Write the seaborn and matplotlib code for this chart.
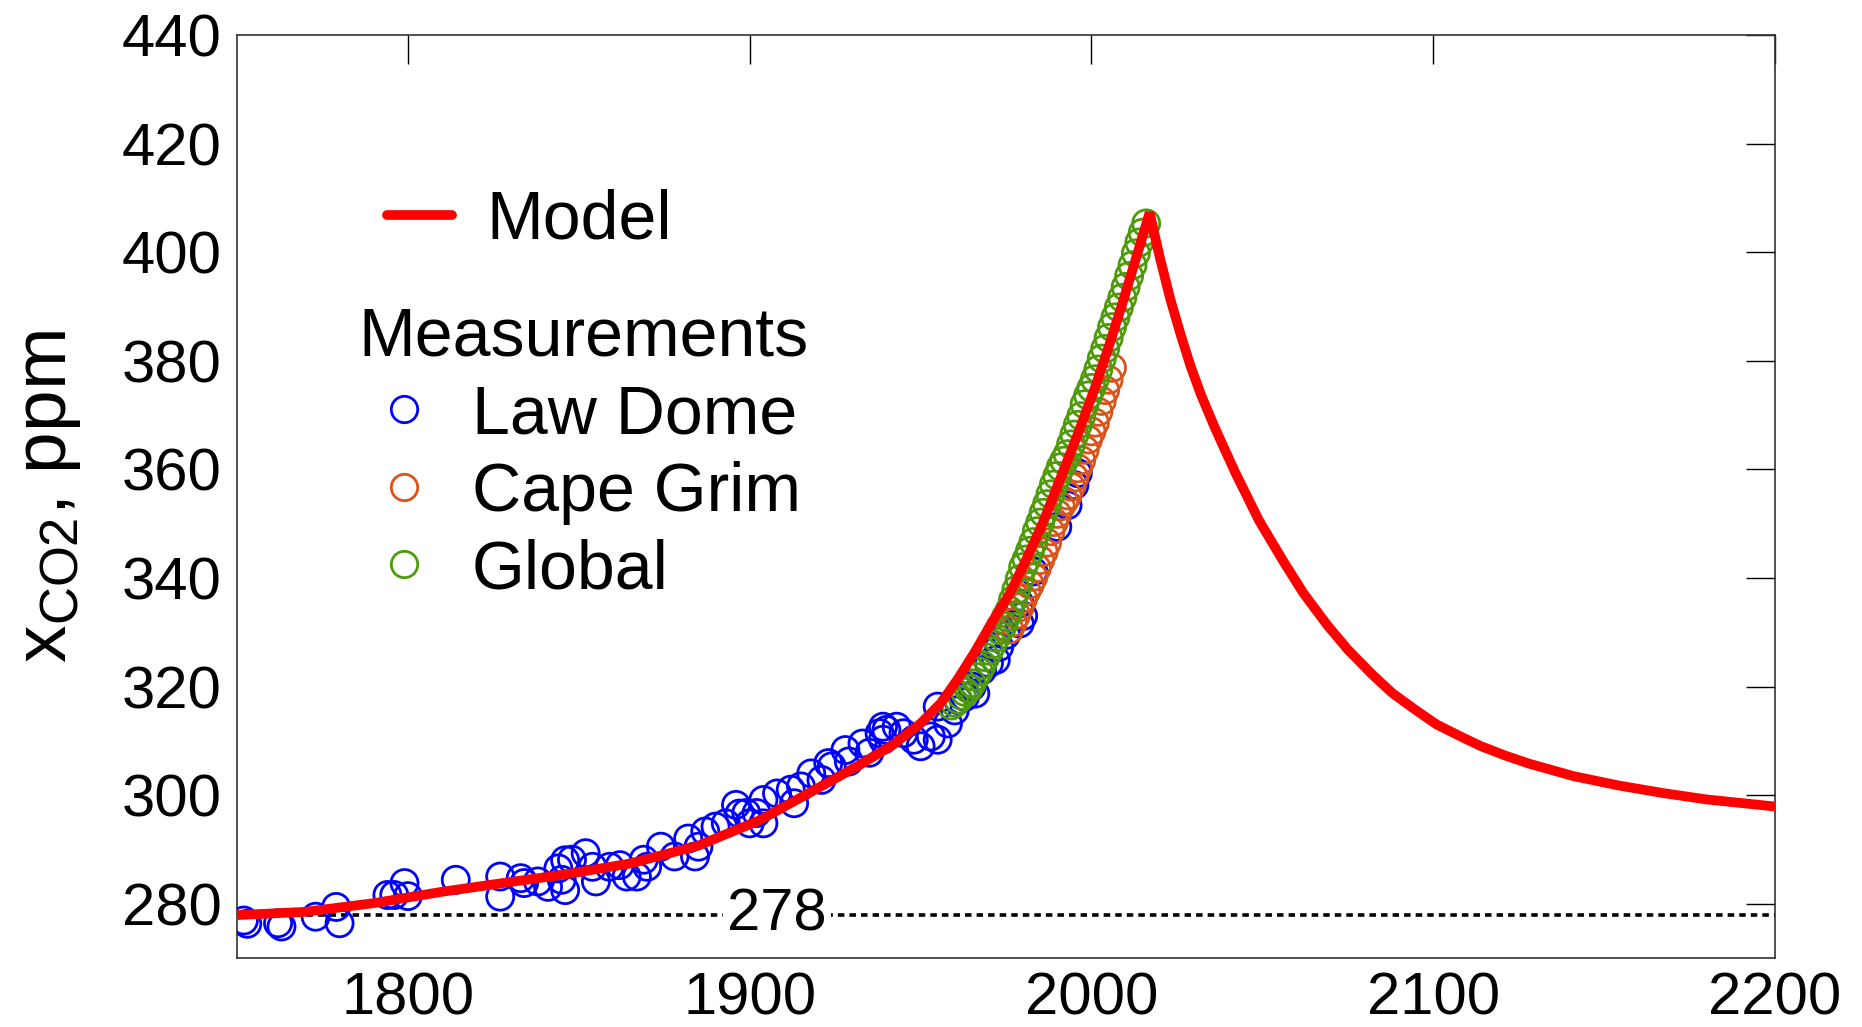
import matplotlib
matplotlib.use("Agg")
import matplotlib.pyplot as plt
from matplotlib.lines import Line2D
import seaborn as sns

# ---- data ----
model_year = [1750, 1770, 1790, 1810, 1830, 1845, 1865, 1885, 1903, 1922, 1932, 1942,
              1950, 1956, 1961, 1966, 1971, 1976, 1981, 1986, 1991, 1996, 2001, 2005,
              2009, 2013, 2017,
              2020, 2023, 2026, 2029, 2032, 2036, 2042, 2049, 2056, 2062, 2069, 2075,
              2082, 2088, 2095, 2101, 2108, 2114, 2121, 2128, 2141, 2154, 2167, 2180, 2200]
model_ppm = [277.9, 278.5, 280.1, 282.2, 284.0, 285.3, 287.4, 290.7, 295.4, 302.0, 305.5, 309.3,
             313.2, 317.0, 321.5, 326.5, 332.0, 337.0, 343.5, 350.5, 358.5, 366.5, 375.0, 382.5,
             390.5, 398.8, 407.3,
             399.0, 391.5, 385.0, 379.0, 373.8, 367.8, 359.5, 350.6, 343.2, 337.2, 331.3, 326.8,
             322.3, 318.8, 315.6, 313.0, 310.8, 309.0, 307.3, 305.8, 303.5, 301.8, 300.4, 299.2, 297.9]

law_year = [1752, 1753, 1762, 1763, 1773, 1779, 1780, 1794, 1796, 1799, 1800, 1814,
            1827, 1827, 1833, 1834, 1838, 1841, 1844, 1845, 1846, 1846, 1848, 1852,
            1854, 1855, 1859, 1862, 1864, 1867, 1869, 1870, 1874, 1878, 1882, 1884,
            1885, 1887, 1890, 1893, 1896, 1897, 1899, 1900, 1902, 1904, 1904, 1908,
            1912, 1913, 1915, 1918, 1921, 1923, 1924, 1928, 1929, 1933, 1935, 1938,
            1939, 1939, 1940, 1943, 1945, 1948, 1950, 1953, 1955, 1955, 1958, 1960,
            1961, 1963, 1965, 1966, 1968, 1970, 1972, 1973, 1975, 1979, 1979, 1980,
            1983, 1990, 1993, 1995, 1996]
law_ppm = [276.9, 276.3, 276.4, 275.8, 277.6, 279.4, 276.4, 281.6, 281.6, 283.8, 281.4, 284.4,
           285.0, 281.3, 284.7, 283.8, 284.1, 283.1, 286.5, 284.4, 288.0, 282.5, 288.1, 289.3,
           286.8, 284.1, 286.8, 287.1, 285.0, 285.0, 288.1, 286.8, 290.5, 288.7, 292.0, 288.7,
           290.5, 293.3, 294.2, 294.8, 298.2, 296.6, 296.7, 294.8, 296.7, 299.1, 294.8, 300.3,
           301.0, 298.5, 301.6, 304.0, 302.8, 305.9, 305.3, 308.3, 306.2, 309.5, 307.8, 311.4,
           312.6, 310.2, 312.0, 312.6, 311.4, 310.2, 309.0, 310.8, 310.2, 316.3, 313.2, 315.6,
           317.5, 318.1, 320.0, 318.7, 323.0, 324.3, 324.9, 327.3, 329.5, 331.6, 335.3, 333.0,
           341.2, 349.4, 353.4, 357.1, 359.3]

grim_year = list(range(1976, 2007))
grim_ppm = [330.5, 331.8, 333.2, 334.6, 336.2, 337.6, 338.8, 340.2, 341.8, 343.3,
            344.8, 346.5, 348.6, 350.3, 351.8, 353.2, 354.2, 355.2, 356.8, 358.5,
            360.2, 361.7, 363.6, 365.5, 367.0, 368.6, 370.6, 372.6, 374.6, 376.5, 378.7]

glob_year = list(range(1959, 2017))
glob_ppm = [316.5, 317.0, 317.6, 318.3, 319.0, 319.6, 320.6, 321.8, 322.8, 324.0,
            325.4, 326.6, 327.8, 329.0, 330.4, 331.2, 332.8, 334.0, 335.9, 337.8,
            339.8, 342.0, 343.4, 345.0, 346.6, 348.6, 350.2, 352.0, 353.6, 355.4,
            357.2, 358.8, 360.4, 361.6, 362.8, 364.6, 366.4, 368.2, 369.8, 372.0,
            373.6, 375.0, 376.6, 378.4, 380.4, 382.2, 384.2, 386.2, 388.0, 389.8,
            391.6, 393.6, 395.6, 397.6, 399.8, 401.8, 403.6, 405.3]

preindustrial = 278
xticks = [1800, 1900, 2000, 2100, 2200]
yticks = list(range(280, 441, 20))

RED = '#FF0000'
BLUE = '#0000FF'
ORANGE = '#D9531A'
GREEN = '#4F9A0A'

sns.set_style('white')
plt.rcParams['font.family'] = ['Liberation Sans', 'DejaVu Sans']
plt.rcParams['mathtext.fontset'] = 'custom'
plt.rcParams['mathtext.rm'] = 'Liberation Sans'
for key in ['text.color', 'axes.labelcolor', 'xtick.color', 'ytick.color']:
    plt.rcParams[key] = 'black'

fig = plt.figure(figsize=(18.62, 10.27), dpi=100)
ax = fig.add_axes([0.1273, 0.0672, 0.826, 0.8987])

# reference line at 278 ppm
ax.plot([1750, 2200], [preindustrial, preindustrial], color='black', lw=2.6,
        ls=(0, (1.8, 1.4)), zorder=1)
ax.text(1908, preindustrial, str(preindustrial), ha='center', va='center', fontsize=43,
        bbox=dict(facecolor='white', edgecolor='none', pad=3), zorder=2)

# measurements
for xs, ys, c in [(law_year, law_ppm, BLUE), (grim_year, grim_ppm, ORANGE),
                  (glob_year, glob_ppm, GREEN)]:
    sns.scatterplot(x=xs, y=ys, color=c, facecolors='none', edgecolor=c, s=380,
                    linewidth=2.0, marker='o', ax=ax, zorder=3)

# model
sns.lineplot(x=model_year, y=model_ppm, color=RED, lw=7, sort=False, ax=ax, zorder=4,
             solid_joinstyle='bevel')

ax.set_xlim(1750, 2200)
ax.set_ylim(270, 440)
ax.set_xticks(xticks)
ax.set_yticks(yticks)
ax.tick_params(direction='in', length=21, width=1, top=True, right=True,
               labelsize=43)
ax.tick_params(axis='x', pad=10)
ax.tick_params(axis='y', pad=11)
for s in ax.spines.values():
    s.set_color('#333333')
    s.set_linewidth(1.2)
ax.set_xlabel('')
ax.set_ylabel(r'x$_{\mathregular{CO2}}$, ppm', fontsize=54)
ax.yaxis.set_label_coords(-0.100, 0.5)

# legends
h_model = Line2D([], [], color=RED, lw=7)
leg1 = ax.legend([h_model], ['Model'], loc='center left', bbox_to_anchor=(0.0974, 0.799),
                 frameon=False, fontsize=49, handlelength=0.96, handletextpad=0.5,
                 borderpad=0, borderaxespad=0)
ax.add_artist(leg1)
h_meas = [Line2D([], [], ls='', marker='o', mfc='none', mec=c, ms=19, mew=2.0)
          for c in (BLUE, ORANGE, GREEN)]
ax.legend(h_meas, ['Law Dome', 'Cape Grim', 'Global'], title='Measurements',
          loc='upper left', bbox_to_anchor=(0.079, 0.707), frameon=False, fontsize=49,
          title_fontsize=49, alignment='left', handlelength=1.33, handletextpad=0.33,
          labelspacing=0.2, borderpad=0, borderaxespad=0)

fig.savefig('out.png', dpi=100)
